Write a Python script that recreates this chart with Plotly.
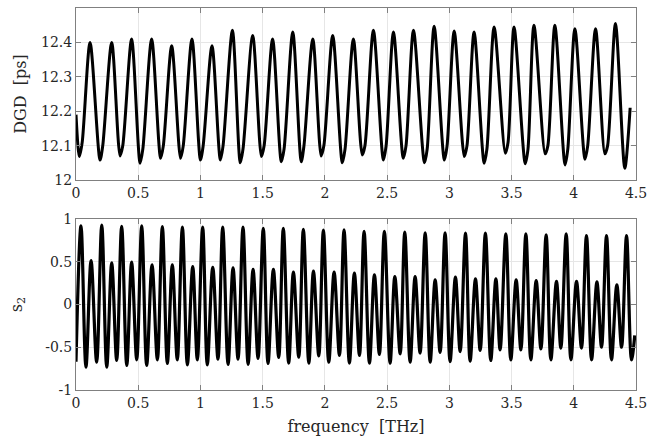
import plotly.graph_objects as go

# DGD [ps]
dgd_start = [0.0, 12.19]
dgd_end = [4.453, 12.21]
dgd_peak_f = [0.113, 0.287, 0.447, 0.608, 0.769, 0.932, 1.093, 1.257, 1.42, 1.58,
              1.742, 1.903, 2.063, 2.229, 2.39, 2.551, 2.712, 2.878, 3.039, 3.199,
              3.36, 3.52, 3.68, 3.848, 4.009, 4.175, 4.335]
dgd_peak_v = [12.40, 12.40, 12.41, 12.41, 12.39, 12.41, 12.39, 12.435, 12.42, 12.41,
              12.43, 12.41, 12.42, 12.41, 12.435, 12.43, 12.435, 12.447, 12.433, 12.43,
              12.445, 12.445, 12.45, 12.45, 12.44, 12.44, 12.455]
dgd_trough_f = [0.027, 0.193, 0.354, 0.515, 0.68, 0.84, 1.0, 1.16, 1.32, 1.49,
                1.65, 1.81, 1.97, 2.14, 2.30, 2.47, 2.63, 2.80, 2.96, 3.12,
                3.28, 3.45, 3.61, 3.77, 3.93, 4.09, 4.25, 4.41]
dgd_trough_v = [12.068, 12.058, 12.07, 12.049, 12.063, 12.063, 12.058, 12.058, 12.05, 12.068,
                12.053, 12.053, 12.07, 12.05, 12.073, 12.058, 12.063, 12.05, 12.058, 12.068,
                12.049, 12.078, 12.047, 12.076, 12.044, 12.06, 12.076, 12.034]
dgd_shoulder_f = [0.05, 0.215, 0.376, 0.537, 0.702, 0.862, 1.022, 1.182, 1.342, 1.512,
                  1.672, 1.832, 1.992, 2.162, 2.322, 2.492, 2.652, 2.822, 2.982, 3.142,
                  3.302, 3.472, 3.632, 3.792, 3.952, 4.112, 4.272]
dgd_shoulder_v = [12.11, 12.10, 12.10, 12.09, 12.10, 12.10, 12.10, 12.10, 12.09, 12.10,
                  12.09, 12.10, 12.10, 12.09, 12.10, 12.10, 12.10, 12.09, 12.10, 12.10,
                  12.09, 12.11, 12.09, 12.10, 12.09, 12.10, 12.10]

# s2
s2_start = [0.0, -0.67]
s2_end = [4.49, -0.36]
s2_big_f = [0.040, 0.207, 0.367, 0.528, 0.694, 0.855, 1.018, 1.179, 1.342, 1.505,
            1.666, 1.827, 1.988, 2.154, 2.315, 2.478, 2.642, 2.806, 2.966, 3.13,
            3.29, 3.454, 3.615, 3.778, 3.939, 4.102, 4.263, 4.424]
s2_big_v = [0.92, 0.93, 0.915, 0.92, 0.91, 0.905, 0.905, 0.905, 0.905, 0.89,
            0.89, 0.88, 0.87, 0.873, 0.857, 0.857, 0.846, 0.838, 0.838, 0.835,
            0.835, 0.826, 0.826, 0.815, 0.826, 0.807, 0.807, 0.807]
s2_small_f = [0.121, 0.287, 0.447, 0.611, 0.774, 0.938, 1.099, 1.262, 1.423, 1.586,
              1.747, 1.908, 2.074, 2.237, 2.398, 2.562, 2.725, 2.886, 3.049, 3.21,
              3.374, 3.537, 3.698, 3.861, 4.022, 4.186, 4.346]
s2_small_v = [0.515, 0.488, 0.495, 0.464, 0.464, 0.444, 0.436, 0.43, 0.41, 0.41,
              0.38, 0.39, 0.378, 0.366, 0.347, 0.327, 0.327, 0.288, 0.32, 0.30,
              0.30, 0.288, 0.28, 0.27, 0.27, 0.265, 0.23]
s2_trough_f = [0.080, 0.166, 0.247, 0.327, 0.408, 0.488, 0.568, 0.654, 0.734, 0.814,
               0.895, 0.975, 1.055, 1.141, 1.222, 1.302, 1.383, 1.463, 1.543, 1.629,
               1.709, 1.79, 1.871, 1.951, 2.031, 2.117, 2.197, 2.278, 2.358, 2.438,
               2.524, 2.605, 2.685, 2.765, 2.846, 2.926, 3.006, 3.087, 3.167, 3.248,
               3.333, 3.408, 3.494, 3.575, 3.655, 3.736, 3.816, 3.896, 3.977, 4.062,
               4.143, 4.223, 4.303, 4.384, 4.464]
s2_trough_v = [-0.733, -0.675, -0.733, -0.655, -0.713, -0.647, -0.713, -0.647, -0.69, -0.647,
               -0.706, -0.647, -0.706, -0.64, -0.70, -0.64, -0.70, -0.63, -0.69, -0.62,
               -0.686, -0.616, -0.686, -0.60, -0.675, -0.596, -0.686, -0.596, -0.686, -0.585,
               -0.686, -0.577, -0.675, -0.569, -0.675, -0.56, -0.667, -0.55, -0.663, -0.538,
               -0.655, -0.53, -0.647, -0.53, -0.647, -0.52, -0.647, -0.51, -0.647, -0.51,
               -0.647, -0.50, -0.647, -0.50, -0.647]

freq_ticks = [0, 0.5, 1, 1.5, 2, 2.5, 3, 3.5, 4, 4.5]
freq_labels = ["0", "0.5", "1", "1.5", "2", "2.5", "3", "3.5", "4", "4.5"]
dgd_ticks = [12, 12.1, 12.2, 12.3, 12.4]
dgd_labels = ["12", "12.1", "12.2", "12.3", "12.4"]
s2_ticks = [-1, -0.5, 0, 0.5, 1]
s2_labels = ["-1", "-0.5", "0", "0.5", "1"]


def merge(start, end, *pairs):
    pts = [tuple(start), tuple(end)]
    for f, v in pairs:
        pts += list(zip(f, v))
    pts.sort()
    return [p[0] for p in pts], [p[1] for p in pts]


dgd_x, dgd_y = merge(dgd_start, dgd_end, (dgd_peak_f, dgd_peak_v),
                     (dgd_trough_f, dgd_trough_v), (dgd_shoulder_f, dgd_shoulder_v))
s2_x, s2_y = merge(s2_start, s2_end, (s2_big_f, s2_big_v),
                   (s2_small_f, s2_small_v), (s2_trough_f, s2_trough_v))

fnt = "DejaVu Serif"
txt = "#262626"

fig = go.Figure()
fig.add_trace(go.Scatter(x=dgd_x, y=dgd_y, mode="lines", xaxis="x", yaxis="y",
                         line=dict(color="black", width=3, shape="spline", smoothing=0.8),
                         showlegend=False))
fig.add_trace(go.Scatter(x=s2_x, y=s2_y, mode="lines", xaxis="x2", yaxis="y2",
                         line=dict(color="black", width=3.2, shape="spline", smoothing=1),
                         showlegend=False))

ax = dict(showline=True, linecolor="#808080", linewidth=1, mirror="ticks",
          ticks="inside", ticklen=5, tickcolor="#808080",
          showgrid=True, gridcolor="#e6e6e6", gridwidth=1, zeroline=False,
          automargin=False, tickfont=dict(family=fnt, size=14, color=txt))

fig.update_layout(
    width=656, height=437,
    margin=dict(l=76, r=20, t=8, b=47),
    plot_bgcolor="white", paper_bgcolor="white",
    font=dict(family=fnt, color=txt),
    xaxis=dict(ax, domain=[0, 1], anchor="y", range=[0, 4.5],
               tickvals=freq_ticks, ticktext=freq_labels),
    yaxis=dict(ax, domain=[0.5497, 1], anchor="x", range=[12, 12.5],
               tickvals=dgd_ticks, ticktext=dgd_labels,
               title=dict(text="DGD  [ps]", font=dict(family=fnt, size=16, color=txt),
                          standoff=10)),
    xaxis2=dict(ax, domain=[0, 1], anchor="y2", range=[0, 4.5],
                tickvals=freq_ticks, ticktext=freq_labels,
                title=dict(text="frequency  [THz]", font=dict(family=fnt, size=16, color=txt),
                           standoff=11)),
    yaxis2=dict(ax, domain=[0, 0.4476], anchor="x2", range=[-1, 1],
                tickvals=s2_ticks, ticktext=s2_labels,
                title=dict(text="s<sub>2</sub>", font=dict(family=fnt, size=16, color=txt),
                           standoff=18)),
)

fig.write_html("out.html", config={"displayModeBar": False},
               post_script="document.body.style.margin='0';")
